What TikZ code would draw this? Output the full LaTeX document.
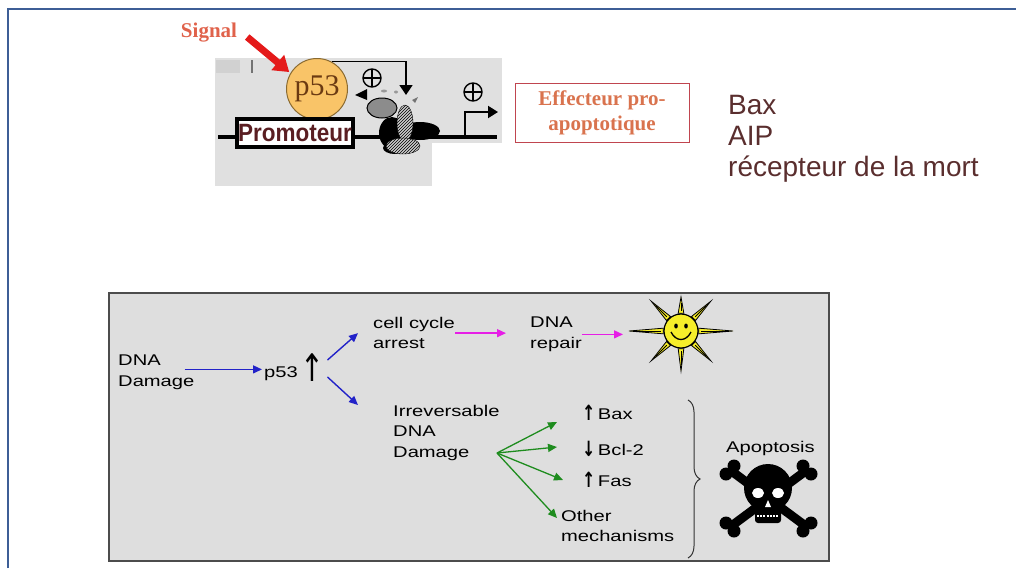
\documentclass[tikz,border=0pt]{standalone}
\usepackage{fontspec}
\setmainfont{Liberation Serif}
\setsansfont{Liberation Sans}
\newfontfamily\widesans[FakeStretch=1.3]{Liberation Sans}
\newfontfamily\narrowsans[FakeStretch=0.9]{Liberation Sans}
\newfontfamily\arrowfont[FakeStretch=0.75]{DejaVu Sans}
\usetikzlibrary{arrows.meta, positioning, calc, patterns, decorations.pathreplacing}

\definecolor{framecol}{HTML}{3D5E96}
\definecolor{panelgray}{HTML}{E0E0E0}
\definecolor{panellow}{HTML}{DEDEDE}
\definecolor{signaltext}{HTML}{E0624B}
\definecolor{signalred}{HTML}{E41A1A}
\definecolor{p53fill}{HTML}{F9C468}
\definecolor{p53edge}{HTML}{8A6A30}
\definecolor{p53text}{HTML}{6B3A12}
\definecolor{promtext}{HTML}{5A1E22}
\definecolor{effborder}{HTML}{C0454F}
\definecolor{efftext}{HTML}{D9734E}
\definecolor{listcol}{HTML}{5A2E2E}
\definecolor{arrblue}{HTML}{2222C8}
\definecolor{arrmagenta}{HTML}{E61EE6}
\definecolor{arrgreen}{HTML}{1E8C1E}
\definecolor{sunyellow}{HTML}{F6EE2A}

% small bold up/down marks in front of the gene names
\newcommand{\upmark}{\raisebox{-1pt}{\arrowfont\bfseries\fontsize{21}{21}\selectfont ↑}}
\newcommand{\downmark}{\raisebox{-1pt}{\arrowfont\bfseries\fontsize{21}{21}\selectfont ↓}}

\begin{document}
\begin{tikzpicture}[x=1pt, y=-1pt,
    label/.style={font=\widesans\fontsize{15.5}{20.5}\selectfont, align=left, inner sep=0pt},
    p53circ/.style={circle, draw=p53edge, line width=1pt, fill=p53fill, minimum size=61pt,
        inner sep=0pt, font=\fontsize{30}{30}\selectfont, text=p53text},
    prombox/.style={draw, line width=4pt, fill=white, minimum width=116pt, minimum height=28pt,
        inner sep=0pt, font=\narrowsans\bfseries\fontsize{25}{25}\selectfont, text=promtext},
    plus/.style={circle, draw, line width=1.4pt, minimum size=18pt, inner sep=0pt,
        path picture={\draw[line width=1.4pt]
            (path picture bounding box.north) -- (path picture bounding box.south)
            (path picture bounding box.west) -- (path picture bounding box.east);}},
    sigarrow/.style={draw=signalred, line width=7pt, -{Triangle[length=15pt,width=19pt]}},
    bluearr/.style={draw=arrblue, line width=1.4pt, -{Triangle[length=9pt,width=8pt]}},
    magarr/.style={draw=arrmagenta, line width=1.4pt, -{Triangle[length=9pt,width=8pt]}},
    greenarr/.style={draw=arrgreen, line width=1.3pt, -{Triangle[length=9pt,width=8pt]}},
]
\useasboundingbox (0,0) rectangle (1016,568);

% page frame
\draw[framecol, line width=2pt] (8,568) -- (8,9) -- (1016,9);

% promoter panel (top)
\fill[panelgray] (215,58) rectangle (502,186);
\fill[white] (432,143) rectangle (503,187);
\fill[black!18] (216,60) rectangle (240,73);
\draw[black!55, line width=1.2pt] (252,60) -- (252,73);
\draw[line width=3.5pt] (218,137) -- (497,137);

% transcription complex
\fill (392,133) ellipse (13 and 16);
\fill (420,131) ellipse (20 and 9);
\fill (395,148) ellipse (12 and 6);
\filldraw[fill=black!45, draw=black, line width=1pt] (382,108) ellipse (15 and 10);
\draw[fill=black!20, postaction={pattern=north east lines}] (405,123) ellipse (8 and 18);
\draw[fill=black!20, postaction={pattern=north east lines}] (403,146) ellipse (17 and 8);
\fill (355,95) -- (367,89) -- (367,100) -- cycle;
\fill[black!40] (384,91) ellipse (3 and 1.5);
\fill[black!40] (396,92) ellipse (2 and 1.5);
\fill[black!55] (412,100) -- (418,97) -- (415,103) -- cycle;

% p53 on the promoter
\node[p53circ] (p53) at (317,89) {p53};
\coordinate (site) at (406,95);
\draw[line width=1.5pt, -{Triangle[length=10pt,width=13pt]}] (p53.62) -| (site);
\node[plus] (plus1) at (372,78) {};
\node[plus] (plus2) at (473,92) {};
\coordinate (tss) at (465,137);
\coordinate (tssend) at (498,112);
\draw[line width=2pt, -{Triangle[length=10pt,width=12pt]}] (tss) |- (tssend);
\node[prombox] (prom) at (295,133) {Promoteur};

% signal
\node[font=\bfseries\fontsize{21}{21}\selectfont, text=signaltext, inner sep=0pt] (sig) at (209,33) {Signal};
\draw[sigarrow] ([shift={(10pt,-4pt)}]sig.east) -- ([shift={(-4pt,-3pt)}]p53.140);

% effector box and targets
\node[draw=effborder, line width=1pt, minimum width=174pt, minimum height=59pt, align=center,
    font=\bfseries\fontsize{21}{25}\selectfont, text=efftext] (eff) at (602,113)
    {Effecteur pro-\\apoptotique};
\node[anchor=north west, align=left, inner sep=0pt, text=listcol,
    font=\sffamily\fontsize{28}{31}\selectfont] (targets) at (728,95)
    {Bax\\AIP\\récepteur de la mort};

% p53 pathway panel (bottom)
\filldraw[fill=panellow, draw=black!70, line width=2pt] (109,293) rectangle (829,561);

\node[label, anchor=north west] (dmg) at (118,355) {DNA\\Damage};
\node[label, anchor=west] (p53b) at (264,368)
    {p53\,\raisebox{-4pt}{\arrowfont\fontsize{38}{38}\selectfont ↑}};
\node[label, anchor=north west] (arrest) at (373,317) {cell cycle\\arrest};
\node[label, anchor=north west] (repair) at (530,317) {DNA\\repair};
\node[label, anchor=north west] (irr) at (393,405) {Irreversable\\DNA\\Damage};
\node[label, anchor=west] (bax) at (582,413) {\upmark\,Bax};
\node[label, anchor=west] (bcl) at (582,449) {\downmark\,Bcl-2};
\node[label, anchor=west] (fas) at (582,480) {\upmark\,Fas};
\node[label, anchor=north west] (other) at (561,510) {Other\\mechanisms};
\node[label, anchor=west] (apop) at (726,448) {Apoptosis};

\draw[bluearr] ([shift={(-10pt,3pt)}]dmg.east) -- ([shift={(-2pt,3pt)}]dmg.east -| p53b.west);
\draw[bluearr] ([shift={(3pt,8pt)}]p53b.east) -- ([xshift=-15pt]arrest.west);
\draw[bluearr] ([shift={(3pt,-9pt)}]p53b.east) -- ([xshift=-35pt]irr.north west);
\draw[magarr] (arrest.east) -- ([xshift=-24pt]arrest.east -| repair.west);

% sun
\coordinate (sun) at (681,331);
\draw[magarr] (repair.east) -- ($(repair.east -| sun)+(-58,0)$);
\foreach \a/\l in {0/52, 45/42, 90/40, 135/42, 180/52, 225/42, 270/34, 315/42} {
    \filldraw[fill=sunyellow, draw=black, line width=0.8pt]
        ($(sun)+(\a+9:18)$) -- ($(sun)+(\a:\l)$) -- ($(sun)+(\a-9:18)$) -- cycle;
    \draw[line width=0.8pt] ($(sun)+(\a:20)$) -- ($(sun)+(\a:\l-6)$);
}
\filldraw[fill=sunyellow, draw=black, line width=1.2pt] (sun) circle (17);
\fill ($(sun)+(-5,-5)$) ellipse (1.8 and 2.5);
\fill ($(sun)+(5,-5)$) ellipse (1.8 and 2.5);
\draw[line width=1.3pt] ($(sun)+(-10,1)$) .. controls ($(sun)+(-5,11)$) and ($(sun)+(5,11)$) .. ($(sun)+(10,1)$);

% damage branches
\coordinate (fork) at (497,453);
\draw[greenarr] (fork) -- ([shift={(-25pt,-9pt)}]bax.west);
\draw[greenarr] (fork) -- ([shift={(-25pt,2pt)}]bcl.west);
\draw[greenarr] (fork) -- ([xshift=-19pt]fas.west);
\draw[greenarr] (fork) -- ([shift={(-4pt,-8pt)}]other.north west);

% brace
\draw[black!80, line width=1pt, decorate, decoration={brace, amplitude=12pt}] (688,400) -- (688,558);

% skull and crossbones
\begin{scope}
\draw[line width=9pt] (730,470) -- (807,527) (807,470) -- (730,527);
\foreach \p in {(726,474),(734,466),(803,466),(811,474),(726,523),(734,531),(803,531),(811,523)}
    \fill \p circle (6.5);
\fill (768,488) circle (24);
\fill[rounded corners=3pt] (755,500) rectangle (781,523);
\fill[white] (758,493) ellipse (6 and 5);
\fill[white] (778,493) ellipse (6 and 5);
\fill[white] (768,500) -- (765,507) -- (771,507) -- cycle;
\draw[white, line width=2.5pt, dash pattern=on 2pt off 1.2pt] (757,516) -- (779,516);
\end{scope}

\end{tikzpicture}
\end{document}
